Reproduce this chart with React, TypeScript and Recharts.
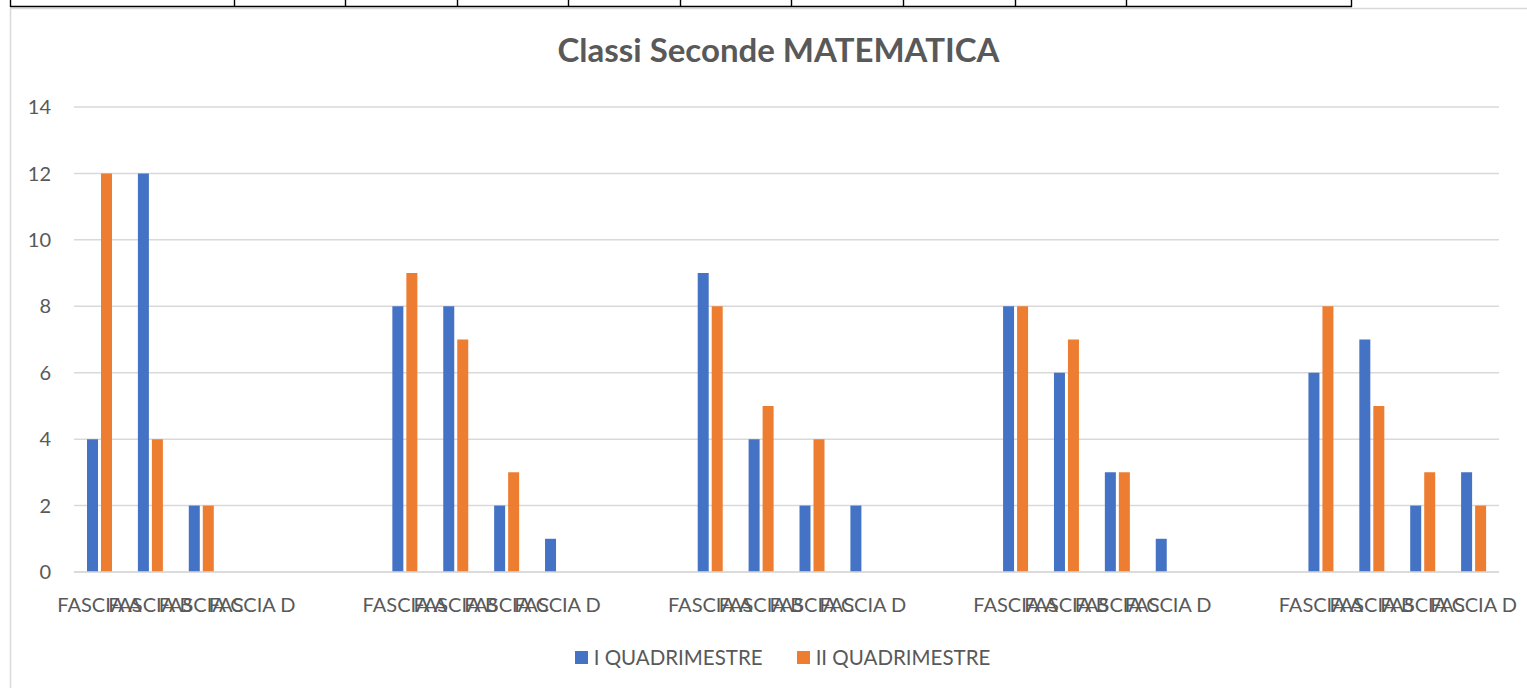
import { BarChart, Bar, XAxis, YAxis, CartesianGrid, Legend } from "recharts";

const FONT = "Lato, 'Open Sans', sans-serif";
const TEXT = "#595959";

const CATEGORIES = [
  "FASCIA A", "FASCIA B", "FASCIA C", "FASCIA D", "", "",
  "FASCIA A", "FASCIA B", "FASCIA C", "FASCIA D", "", "",
  "FASCIA A", "FASCIA B", "FASCIA C", "FASCIA D", "", "",
  "FASCIA A", "FASCIA B", "FASCIA C", "FASCIA D", "", "",
  "FASCIA A", "FASCIA B", "FASCIA C", "FASCIA D",
];
const PRIMO = [
  4, 12, 2, 0, null, null,
  8, 8, 2, 1, null, null,
  9, 4, 2, 2, null, null,
  8, 6, 3, 1, null, null,
  6, 7, 2, 3,
];
const SECONDO = [
  12, 4, 2, 0, null, null,
  9, 7, 3, 0, null, null,
  8, 5, 4, 0, null, null,
  8, 7, 3, 0, null, null,
  8, 5, 3, 2,
];
const Y_TICKS = [0, 2, 4, 6, 8, 10, 12, 14];
const SERIES = ["I QUADRIMESTRE", "II QUADRIMESTRE"];

// spreadsheet cell borders above the chart
const CELL_X = [10, 234, 345, 457, 568, 680, 791, 903, 1015, 1126, 1351];

const data = CATEGORIES.map((c, i) => ({ cat: c, primo: PRIMO[i], secondo: SECONDO[i] }));

// eslint-disable-next-line @typescript-eslint/no-explicit-any
function LegendContent({ payload }: any) {
  return (
    <div style={{
      display: "flex",
      justifyContent: "center",
      alignItems: "center",
      height: 30,
      paddingLeft: 56,
      fontFamily: FONT,
      fontSize: 20.5,
      color: TEXT,
    }}>
      {(payload || []).map((p: any, i: number) => (
        <div key={i} style={{ display: "flex", alignItems: "center", marginLeft: i ? 34 : 0 }}>
          <span style={{ width: 13, height: 13, background: p.color, marginRight: 6, display: "inline-block" }} />
          {p.value}
        </div>
      ))}
    </div>
  );
}

export default function App() {
  return (
    <div style={{ position: "absolute", left: 0, top: 0, width: 1527, height: 688, background: "#fff", overflow: "hidden" }}>
      <svg width={1527} height={688} style={{ position: "absolute", left: 0, top: 0 }}>
        <line x1={10} y1={8.5} x2={1527} y2={8.5} stroke="#D9D9D9" strokeWidth={1.5} />
        <line x1={10.5} y1={8} x2={10.5} y2={688} stroke="#D9D9D9" strokeWidth={1.5} />
        <line x1={10} y1={6.5} x2={1352} y2={6.5} stroke="#000" strokeWidth={1.4} />
        {CELL_X.map((x) => (
          <line key={x} x1={x + 0.5} y1={0} x2={x + 0.5} y2={7} stroke="#000" strokeWidth={1.4} />
        ))}
        <text x={778.5} y={62} textAnchor="middle" fontFamily={FONT} fontWeight="bold" fontSize={33} fill={TEXT}>
          Classi Seconde MATEMATICA
        </text>
      </svg>
      <div style={{ position: "absolute", left: 10, top: 8 }}>
        <BarChart
          width={1517}
          height={680}
          data={data}
          margin={{ top: 99, right: 28, left: 0, bottom: 16 }}
          barSize={11}
          barGap={3}
        >
          <CartesianGrid vertical={false} stroke="#D9D9D9" strokeWidth={1.5} />
          <XAxis
            dataKey="cat"
            interval={0}
            height={70}
            tickLine={false}
            tickSize={0}
            tickMargin={26}
            axisLine={{ stroke: "#D9D9D9", strokeWidth: 1.5 }}
            tick={{ fontFamily: FONT, fontSize: 20, fill: TEXT }}
          />
          <YAxis
            width={64}
            domain={[0, 14]}
            ticks={Y_TICKS}
            axisLine={false}
            tickLine={false}
            tickSize={0}
            tickMargin={23}
            tick={{ fontFamily: FONT, fontSize: 20, fill: TEXT }}
          />
          <Legend verticalAlign="bottom" content={<LegendContent />} />
          <Bar dataKey="primo" name={SERIES[0]} fill="#4472C4" isAnimationActive={false} />
          <Bar dataKey="secondo" name={SERIES[1]} fill="#ED7D31" isAnimationActive={false} />
        </BarChart>
      </div>
    </div>
  );
}
